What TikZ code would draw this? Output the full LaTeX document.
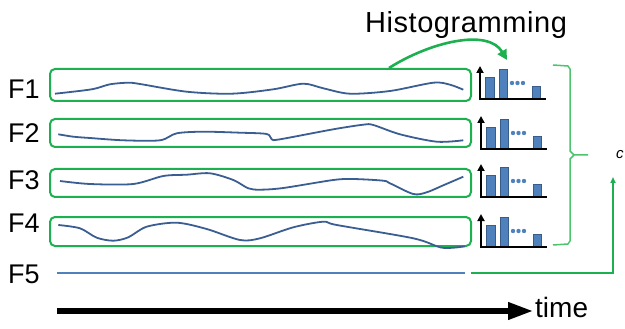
\documentclass[tikz,border=0pt]{standalone}
\usepackage{fontspec}
\setmainfont{Liberation Sans}
\usetikzlibrary{arrows.meta}
\definecolor{gbox}{HTML}{1DB050}
\definecolor{gbrace}{HTML}{4CC46E}
\definecolor{curve}{HTML}{3A5E92}
\definecolor{f5blue}{HTML}{4F81BD}
\definecolor{barblue}{HTML}{4F81BD}
\definecolor{bardark}{HTML}{385D8A}
\tikzset{
  fbox/.style={draw=gbox, line width=2pt, rounded corners=5pt, minimum width=421pt, inner sep=0pt},
  wave/.style={draw=curve, line width=1.8pt, smooth, tension=0.5},
  flabel/.style={font=\fontsize{27}{27}\selectfont, inner sep=0pt},
  axisline/.style={draw=black, line width=2.6pt},
  histo/.pic={
    \fill[barblue,draw=bardark,line width=0.8pt] (5,0) rectangle (14,-22);
    \fill[barblue,draw=bardark,line width=0.8pt] (19,0) rectangle (27,-30);
    \fill[barblue,draw=bardark,line width=0.8pt] (52,0) rectangle (60,-13);
    \fill[barblue] (32,-16) circle (2.2pt) (37.5,-16) circle (2.2pt) (43,-16) circle (2.2pt);
    \draw[axisline] (-1,0) -- (66,0);
    \draw[axisline,-{Triangle[length=7pt,width=7pt]}] (0,1) -- (0,-33);
    \coordinate (-in) at (27,-39);
  }
}
\begin{document}
\begin{tikzpicture}[x=1pt,y=-1pt]
\useasboundingbox (0,0) rectangle (625,329);

% labels
\node[flabel] (l1) at (24,89) {F1};
\node[flabel] (l2) at (24,133) {F2};
\node[flabel] (l3) at (24,180) {F3};
\node[flabel] (l4) at (24,223) {F4};
\node[flabel] (l5) at (24,274) {F5};

% boxes
\node[fbox, minimum height=32pt] (b1) at (260.5,85) {};
\node[fbox, minimum height=28pt] (b2) at (260.5,133) {};
\node[fbox, minimum height=28pt] (b3) at (260.5,183) {};
\node[fbox, minimum height=29pt] (b4) at (260.5,231.5) {};

% waves
\draw[wave] plot coordinates {(55,93.7) (91.7,89.3) (110,84.3) (128.3,82.7) (140,84) (186.7,91.7) (231.7,93.7) (273.3,89.3) (303.3,83.7) (323.3,88.3) (350,93.7) (390,91) (433.3,82.7) (450,84.7) (463.3,89.7)};
\draw[wave] plot coordinates {(58.3,134.3) (73.3,136.7) (90,138) (123.3,140.3) (160,140.3) (176.7,133.3) (203.3,131.7) (240,132.7) (266.7,134) (271.7,139.3) (280,139.3) (333.3,129.3) (363.3,124.7) (373.3,125) (400,134.3) (436.7,141.7) (463.3,140.3)};
\draw[wave] plot coordinates {(60,181) (90,184) (133.3,184) (163.3,176) (186.7,174.7) (210,173.3) (233.3,180) (248.3,188.3) (260,189.7) (283.3,188) (333.3,180) (353.3,179) (383.3,180.7) (390,183.3) (413.3,194) (426.7,192.3) (443.3,185.3) (463.3,176.7)};
\draw[wave] plot coordinates {(58.3,225) (80,228.3) (96.7,237.7) (113.3,240.7) (128.3,237.3) (146.7,226.7) (176.7,222.7) (206.7,229) (240,240) (260,238.3) (293.3,227.3) (323.3,221.7) (336.7,225) (413.3,238.3) (440,247.3) (453.3,247.7) (465,246.3)};

% F5 line
\coordinate (f5a) at (57,273);
\coordinate (f5b) at (465,273);
\draw[f5blue, line width=1.6pt] (f5a) -- (f5b);

% histograms
\pic (h1) at (480,99) {histo};
\pic (h2) at (481,149) {histo};
\pic (h3) at (481,197) {histo};
\pic (h4) at (481,247) {histo};

% Histogramming arrow
\node[font=\fontsize{29}{29}\selectfont\addfontfeatures{LetterSpace=2}, inner sep=0pt, anchor=base] (ht) at (466,33) {Histogramming};
\draw[gbox, line width=2.6pt, -{Triangle[length=10pt,width=10pt]}]
  ([xshift=-83pt]b1.north east) .. controls (430,42) and (488,28) .. (h1-in);

% brace
\draw[gbrace, line width=1.5pt] (553,65) -- (568,66) -- (570,69) -- (570,151) -- (574,155) -- (588,155)
  (574,155) -- (570,159) -- (570,241) -- (568,244) -- (553,245);

% F5 to c connector
\coordinate (f5g) at (471,273);
\coordinate (cend) at (613,177);
\draw[gbox, line width=1.6pt, -{Triangle[length=6pt,width=5pt]}] (f5g) -| (cend);
\node[font=\fontsize{15}{15}\selectfont\itshape, inner sep=0pt, anchor=west] (c) at (616,155) {c};

% time arrow
\coordinate (ta) at (57,311);
\coordinate (tb) at (534,311);
\draw[line width=6.5pt, -{Triangle[length=26pt,width=16pt]}] (ta) -- (tb);
\node[font=\fontsize{28}{28}\selectfont, inner sep=0pt, anchor=base west] (time) at (535,317) {time};
\end{tikzpicture}
\end{document}
